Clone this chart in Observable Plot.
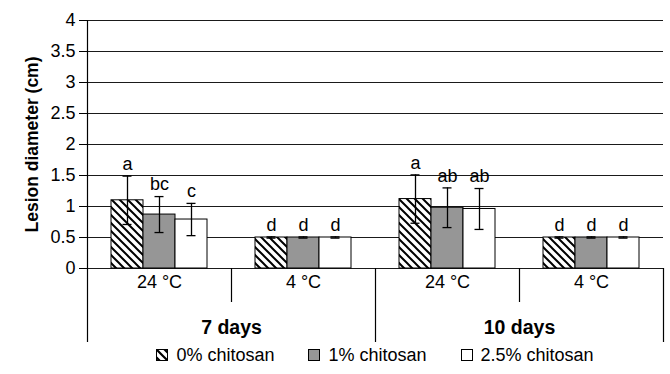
<!DOCTYPE html>
<html><head><meta charset="utf-8">
<script src="https://cdn.jsdelivr.net/npm/d3@7"></script>
<script src="https://cdn.jsdelivr.net/npm/@observablehq/plot@0.6"></script>
<style>
body{margin:0;background:#fff;font-family:"Liberation Sans",Arial,sans-serif;}
#legend{display:flex;justify-content:center;gap:34px;padding:0 7px 0 87px;font-size:18px;line-height:20px;margin-top:2px;color:#000}
.item{display:flex;align-items:center;gap:8px}
.item svg{display:block}
</style></head><body><div id="chart"></div><div id="legend"></div>
<script>
const days = ["7 days", "10 days"];
const temps = ["24 °C", "4 °C"];
const series = ["0% chitosan", "1% chitosan", "2.5% chitosan"];
// values per group: 7d/24, 7d/4, 10d/24, 10d/4
const v0 = [1.10, 0.50, 1.12, 0.50];
const v1 = [0.87, 0.50, 0.98, 0.50];
const v2 = [0.79, 0.50, 0.96, 0.50];
const e0 = [0.39, 0.01, 0.39, 0.01];
const e1 = [0.29, 0.01, 0.32, 0.01];
const e2 = [0.26, 0.01, 0.33, 0.01];
const l0 = ["a", "d", "a", "d"];
const l1 = ["bc", "d", "ab", "d"];
const l2 = ["c", "d", "ab", "d"];
const yTicks = [0, 0.5, 1, 1.5, 2, 2.5, 3, 3.5, 4];

const fills = ["url(#hatch)", "#969696", "#ffffff"];
const groups = days.flatMap(d => temps.map(t => ({key: d + "|" + t, day: d, temp: t})));
const vals = [v0, v1, v2], errs = [e0, e1, e2], lets = [l0, l1, l2];
const rows = [];
groups.forEach((g, gi) => series.forEach((s, si) => {
  const v = vals[si][gi], e = errs[si][gi];
  rows.push({key: g.key, series: s, value: v, lo: v - e, hi: v + e, letter: lets[si][gi]});
}));
const dayRows = days.map(d => ({key: groups.find(g => g.day === d && g.temp === temps[0]).key, day: d}));
const titleRow = [{key: groups[0].key, t: "Lesion diameter (cm)"}];

const W = 670, H = 343, mT = 20, mB = 75, mL = 87, mR = 7;

const plot = Plot.plot({
  width: W, height: H,
  marginTop: mT, marginBottom: mB, marginLeft: mL, marginRight: mR,
  style: {fontFamily: "Liberation Sans, Arial, sans-serif", fontSize: "17.5px", background: "white", color: "black"},
  fx: {domain: groups.map(g => g.key), padding: 0, axis: null},
  x: {domain: series, paddingInner: 0, paddingOuter: 0.735, axis: null},
  y: {domain: [0, 4], axis: null},
  color: {type: "ordinal", domain: series, range: fills},
  marks: [
    Plot.ruleY(yTicks, {stroke: "#1a1a1a", strokeWidth: 1}),
    Plot.axisY({ticks: yTicks, tickSize: 8, tickPadding: 4, tickFormat: d => String(d), label: null, fontSize: 18}),
    Plot.barY(rows, {fx: "key", x: "series", y: "value", fill: "series", stroke: "black", strokeWidth: 1, inset: 0}),
    Plot.ruleX(rows, {fx: "key", x: "series", y1: "lo", y2: "hi", stroke: "black", strokeWidth: 1.3}),
    Plot.tickY(rows, {fx: "key", x: "series", y: "hi", stroke: "black", strokeWidth: 1.3, insetLeft: 11.5, insetRight: 11.5}),
    Plot.tickY(rows, {fx: "key", x: "series", y: "lo", stroke: "black", strokeWidth: 1.3, insetLeft: 11.5, insetRight: 11.5}),
    Plot.text(rows, {fx: "key", x: "series", y: "hi", text: "letter", dy: -12, fontSize: 18, fill: "black"}),
    Plot.text(groups, {fx: "key", text: "temp", frameAnchor: "bottom", dy: 19, fontSize: 18, fill: "black"}),
    Plot.text(dayRows, {fx: "key", text: "day", frameAnchor: "bottom-right", textAnchor: "middle", dy: 65, fontSize: 19.5, fontWeight: "bold", fill: "black"}),
    Plot.text(titleRow, {fx: "key", text: "t", frameAnchor: "left", textAnchor: "middle", rotate: -90, dx: -55, fontSize: 17.5, fontWeight: "bold", fill: "black"})
  ]
});

const svg = d3.select(plot);
svg.insert("defs", ":first-child").html(
  '<pattern id="hatch" patternUnits="userSpaceOnUse" width="8" height="8">' +
  '<rect width="8" height="8" fill="white"/>' +
  '<path d="M-2,-2L10,10M-2,6L2,10M6,-2L10,2" stroke="black" stroke-width="2"/></pattern>');

const fxs = plot.scale("fx"), ys = plot.scale("y");
const y0 = ys.apply(0), yTop = ys.apply(4);
const g = svg.append("g").attr("stroke", "black").attr("stroke-width", 1.2);
const bounds = groups.map(gr => fxs.apply(gr.key)).concat([fxs.apply(groups[groups.length - 1].key) + fxs.bandwidth]);
bounds.forEach((x, i) => {
  const long = i % 2 === 0;
  g.append("line")
    .attr("x1", Math.round(x) + 0.5).attr("x2", Math.round(x) + 0.5)
    .attr("y1", i === 0 ? yTop : y0)
    .attr("y2", long ? H - 1 : y0 + 34);
});

document.getElementById("chart").appendChild(plot);

const leg = document.getElementById("legend");
series.forEach((s, i) => {
  const it = document.createElement("div");
  it.className = "item";
  it.innerHTML = '<svg width="12" height="12" viewBox="0 0 12 12">' +
    (i === 0 ? '<defs><pattern id="hatchL" patternUnits="userSpaceOnUse" width="8" height="8"><rect width="8" height="8" fill="white"/><path d="M-2,-2L10,10M-2,6L2,10M6,-2L10,2" stroke="black" stroke-width="2.2"/></pattern></defs>' : '') +
    '<rect x="0.5" y="0.5" width="11" height="11" fill="' + (i === 0 ? 'url(#hatchL)' : fills[i]) + '" stroke="black" stroke-width="1"/></svg>' +
    '<span>' + s + '</span>';
  leg.appendChild(it);
});
</script>
</body></html>
